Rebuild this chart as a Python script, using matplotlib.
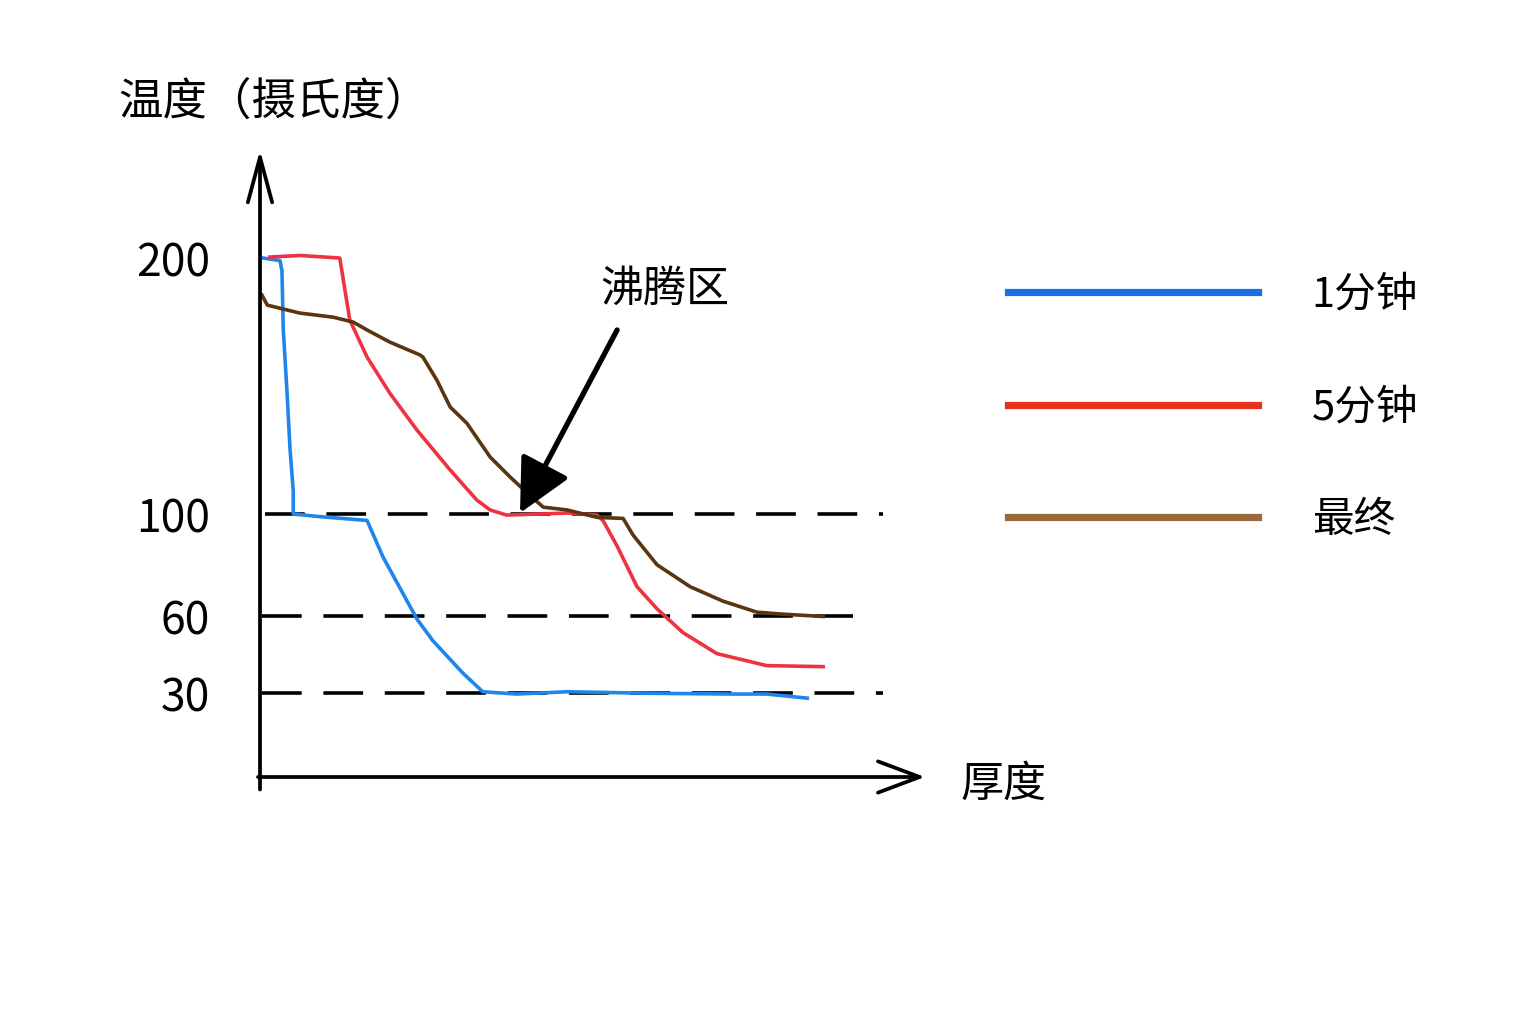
import numpy as np
import matplotlib.pyplot as plt
from matplotlib.lines import Line2D

# ============================================
# DATE
# ============================================

# 1分钟 (albastru)
x_1min = [0.45, 3.0, 3.3, 3.5, 4.1, 4.5, 5.0, 5.0, 9.0, 16.1, 18.5, 23.6, 26.0, 30.5,
          33.5, 38.6, 46.2, 58.6, 71.1, 76.2, 82.3]
y_1min = [200, 199, 195, 172, 146, 126, 109, 100, 99, 97.5, 83.2, 59, 50.5, 37.9,
          30.6, 29.7, 30.6, 30, 29.7, 29.7, 28.1]

# 5分钟 (rosu)
x_5min = [1.5, 6.0, 12.0, 13.5, 16.1, 19.5, 23.6, 28.6, 32.6, 34.6, 37.1, 46.2, 50.7,
          51.6, 53.7, 56.7, 59.7, 63.6, 68.7, 76.2, 84.7]
y_5min = [200.4, 201, 200, 175.8, 161.3, 147.3, 132.8, 117.2, 105.5, 101.6, 99.6, 100.4,
          99.6, 97.4, 87.5, 71.6, 63, 53.7, 45.5, 40.8, 40.4]

# 最终 (maro)
x_final = [0.3, 1.1, 6.0, 11.0, 14.0, 16.1, 19.5, 24.1, 24.5, 26.6, 28.6, 31.1, 34.6,
           37.6, 40.2, 42.6, 46.2, 50.7, 54.6, 56.1, 59.7, 64.7, 69.6, 74.7, 78.6, 84.7]
y_final = [185.5, 181.6, 178.5, 176.9, 175, 171.9, 167.2, 162.1, 161.3, 152.3, 141.8,
           135.5, 122.3, 114.5, 108.2, 102.7, 101.6, 98.7, 98.3, 91.8, 80.2, 71.6, 66,
           61.7, 60.9, 60]

labels = ['1分钟', '5分钟', '最终']

# linii de referinta
ref_levels = [100, 60, 30]
ref_x_end = [93.7, 89.2, 93.7]
ref_x_start = [0.75, 0.3, 0.3]

yticks = [200, 100, 60, 30]

# anotatie 沸腾区
arrow_start = (53.7, 171.9)
arrow_end = (39.1, 100.4)
text_pos = (60.9, 187.5)

# ============================================
# GRAFIC
# ============================================

plt.rcParams['font.family'] = ['Noto Sans CJK SC', 'DejaVu Sans']

fig = plt.figure(figsize=(15.36, 10.24), dpi=100)
fig.patch.set_facecolor('white')
ax = fig.add_axes([260 / 1536, 1 - 777 / 1024, 665 / 1536, 627 / 1024])
ax.set_xlim(0, 100)
ax.set_ylim(-2.7, 242.2)
for s in ax.spines.values():
    s.set_visible(False)

# axe desenate ca sageti
ax.annotate('', xy=(0, 1.0), xytext=(0, -0.02), xycoords='axes fraction',
            arrowprops=dict(arrowstyle='->,head_length=1.3,head_width=0.35',
                            mutation_scale=25, lw=2.7, color='black',
                            shrinkA=0, shrinkB=0))
ax.annotate('', xy=(1.0, 0), xytext=(-0.003, 0), xycoords='axes fraction',
            arrowprops=dict(arrowstyle='->,head_length=1.2,head_width=0.45',
                            mutation_scale=25, lw=2.7, color='black',
                            shrinkA=0, shrinkB=0))

for lvl, xs, xe in zip(ref_levels, ref_x_start, ref_x_end):
    ax.plot([xs, xe], [lvl, lvl], color='black', lw=2.6,
            dashes=(11, 6), solid_capstyle='round')

c_blue = '#1F85EC'
c_red = '#EE3340'
c_brown = '#5A3510'
ax.plot(x_1min, y_1min, color=c_blue, lw=2.6, solid_joinstyle='round')
ax.plot(x_5min, y_5min, color=c_red, lw=2.6, solid_joinstyle='round')
ax.plot(x_final, y_final, color=c_brown, lw=2.6, solid_joinstyle='round')

ax.set_xticks([])
ax.set_yticks(yticks)
ax.set_yticklabels([str(t) for t in yticks], fontsize=32)
ax.tick_params(axis='y', length=0, pad=36)

ax.annotate('', xy=arrow_end, xytext=arrow_start,
            arrowprops=dict(arrowstyle='-|>,head_length=1.1,head_width=0.55',
                            mutation_scale=30, lw=3.8, color='black',
                            shrinkA=0, shrinkB=0))
ax.text(*text_pos, '沸腾区', fontsize=31, ha='center', va='center')

fig.text(118 / 1536, 1 - 102 / 1024, '温度（摄氏度）', fontsize=32, va='center')
fig.text(960 / 1536, 1 - 785 / 1024, '厚度', fontsize=31, va='center')

# legenda
handles = [Line2D([], [], color='#1570E6', lw=5.2),
           Line2D([], [], color='#E8301E', lw=5.2),
           Line2D([], [], color='#9A6A3C', lw=5.2)]
fig.legend(handles, labels, loc='upper left', bbox_to_anchor=(970 / 1536, 1 - 237 / 1024),
           frameon=False, fontsize=30, handlelength=6.0, handletextpad=1.3,
           labelspacing=1.72)

plt.savefig('out.png', dpi=100)
